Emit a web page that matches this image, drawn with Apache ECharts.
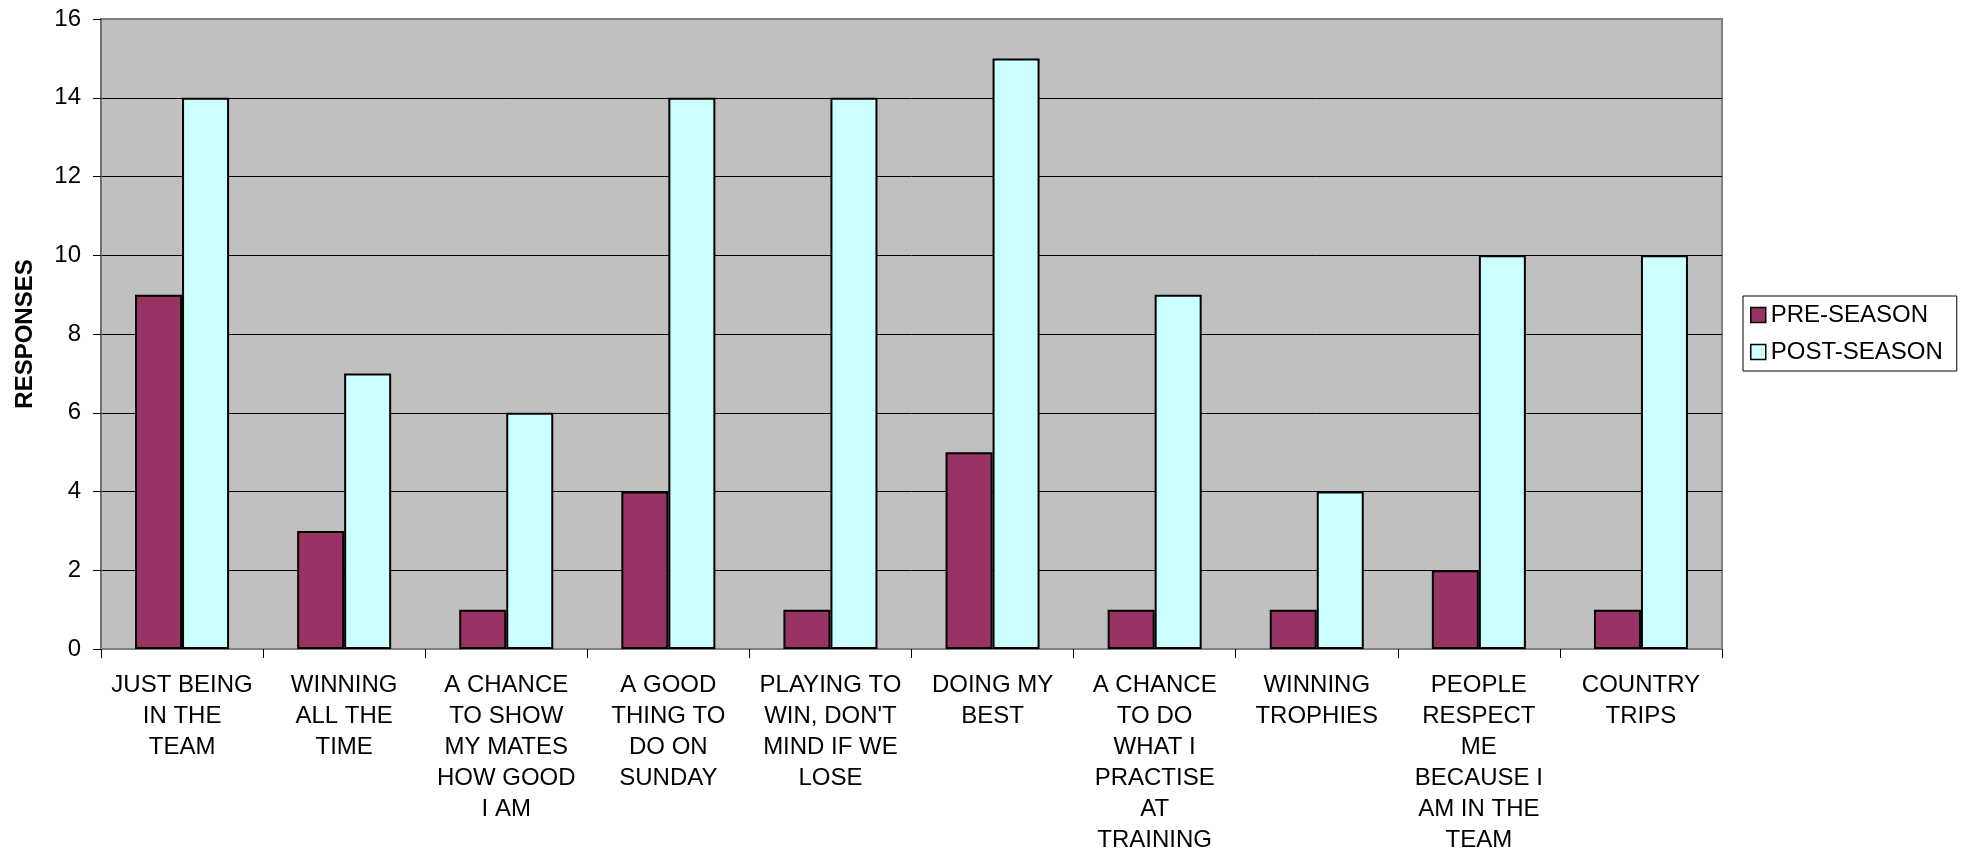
<!DOCTYPE html>
<html>
<head>
<meta charset="utf-8">
<script src="https://cdn.jsdelivr.net/npm/echarts@6/dist/echarts.min.js"></script>
<style>
  html, body { margin: 0; padding: 0; background: #ffffff; }
  #chart { width: 1969px; height: 854px; }
</style>
</head>
<body>
<div id="chart"></div>
<script>
// Reasons for playing: survey responses before and after the season
const categories = [
  "JUST BEING\nIN THE\nTEAM",
  "WINNING\nALL THE\nTIME",
  "A CHANCE\nTO SHOW\nMY MATES\nHOW GOOD\nI AM",
  "A GOOD\nTHING TO\nDO ON\nSUNDAY",
  "PLAYING TO\nWIN, DON'T\nMIND IF WE\nLOSE",
  "DOING MY\nBEST",
  "A CHANCE\nTO DO\nWHAT I\nPRACTISE\nAT\nTRAINING",
  "WINNING\nTROPHIES",
  "PEOPLE\nRESPECT\nME\nBECAUSE I\nAM IN THE\nTEAM",
  "COUNTRY\nTRIPS"
];
const preSeason = [9, 3, 1, 4, 1, 5, 1, 1, 2, 1];
const postSeason = [14, 7, 6, 14, 14, 15, 9, 4, 10, 10];
const seriesNames = ["PRE-SEASON", "POST-SEASON"];
const yAxisTitle = "RESPONSES";

const FONT = "'Liberation Sans', Arial, sans-serif";

const chart = echarts.init(document.getElementById('chart'), null, { renderer: 'canvas' });

chart.setOption({
  animation: false,
  backgroundColor: '#ffffff',
  textStyle: { fontFamily: FONT },
  grid: {
    left: 101, right: 247, top: 19, bottom: 205,
    outerBoundsMode: 'none',
    containLabel: false,
    show: true,
    backgroundColor: '#c0c0c0',
    borderColor: '#808080',
    borderWidth: 2
  },
  legend: {
    orient: 'vertical',
    left: 1743,
    top: 296,
    padding: [7, 14, 7, 7],
    itemWidth: 15,
    itemHeight: 15,
    itemGap: 13,
    icon: 'rect',
    borderColor: '#000000',
    borderWidth: 1,
    backgroundColor: '#ffffff',
    itemStyle: { borderColor: '#000000', borderWidth: 1.5 },
    textStyle: { fontFamily: FONT, fontSize: 24, color: '#000000', lineHeight: 24, padding: [0, 0, 0, 0] },
    data: seriesNames
  },
  xAxis: {
    type: 'category',
    data: categories,
    axisLine: { show: true, lineStyle: { color: '#808080', width: 2 } },
    axisTick: { show: true, length: 9, interval: 0, lineStyle: { color: '#000000', width: 1 } },
    axisLabel: {
      interval: 0,
      margin: 21,
      fontFamily: FONT,
      fontSize: 24,
      lineHeight: 31,
      color: '#000000',
      align: 'center',
      verticalAlign: 'top'
    },
    splitLine: { show: false }
  },
  yAxis: {
    type: 'value',
    min: 0,
    max: 16,
    interval: 2,
    name: yAxisTitle,
    nameLocation: 'middle',
    nameGap: 64,
    nameRotate: 90,
    nameTextStyle: { fontFamily: FONT, fontSize: 24, fontWeight: 'bold', color: '#000000' },
    axisLine: { show: true, lineStyle: { color: '#707070', width: 2 } },
    axisTick: { show: true, length: 8, lineStyle: { color: '#000000', width: 1 } },
    axisLabel: { margin: 20, fontFamily: FONT, fontSize: 24, color: '#000000' },
    splitLine: { show: true, showMaxLine: false, lineStyle: { color: '#000000', width: 1 } }
  },
  series: [
    {
      name: seriesNames[0],
      type: 'bar',
      data: preSeason,
      barGap: '0%',
      barCategoryGap: '42%',
      itemStyle: { color: '#993366', borderColor: '#000000', borderWidth: 2 }
    },
    {
      name: seriesNames[1],
      type: 'bar',
      data: postSeason,
      barGap: '0%',
      barCategoryGap: '42%',
      itemStyle: { color: '#ccffff', borderColor: '#000000', borderWidth: 2 }
    }
  ]
});
</script>
</body>
</html>
